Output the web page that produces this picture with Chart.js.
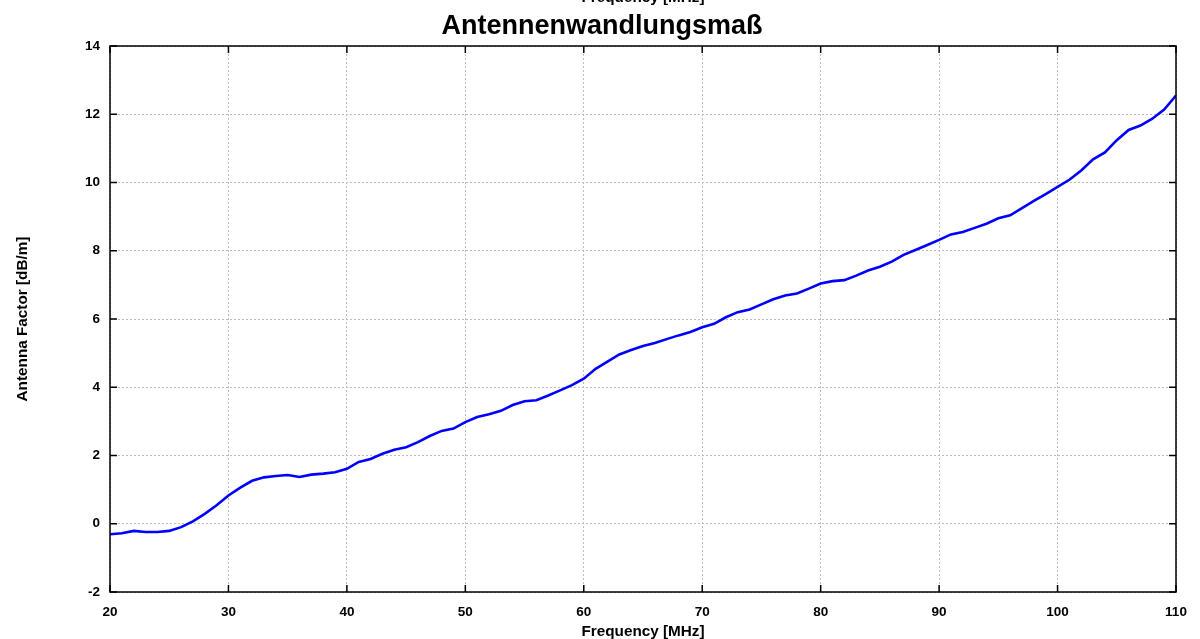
<!DOCTYPE html>
<html>
<head>
<meta charset="utf-8">
<script src="https://cdn.jsdelivr.net/npm/chart.js@4.4.1/dist/chart.umd.min.js"></script>
<style>
  html, body { margin: 0; padding: 0; background: #ffffff; }
  #wrap { width: 1200px; height: 639px; }
</style>
</head>
<body>
<div id="wrap"><canvas id="c" width="1200" height="639"></canvas></div>
<script>
const chartTitle = "Antennenwandlungsmaß";
const xAxisTitle = "Frequency [MHz]";
const yAxisTitle = "Antenna Factor [dB/m]";

const frequencies = [20, 21, 22, 23, 24, 25, 26, 27, 28, 29,
  30, 31, 32, 33, 34, 35, 36, 37, 38, 39,
  40, 41, 42, 43, 44, 45, 46, 47, 48, 49,
  50, 51, 52, 53, 54, 55, 56, 57, 58, 59,
  60, 61, 62, 63, 64, 65, 66, 67, 68, 69,
  70, 71, 72, 73, 74, 75, 76, 77, 78, 79,
  80, 81, 82, 83, 84, 85, 86, 87, 88, 89,
  90, 91, 92, 93, 94, 95, 96, 97, 98, 99,
  100, 101, 102, 103, 104, 105, 106, 107, 108, 109, 110];

const antennaFactor = [-0.31, -0.28, -0.21, -0.24, -0.24, -0.21, -0.10, 0.07, 0.29, 0.54,
  0.83, 1.06, 1.26, 1.36, 1.40, 1.43, 1.37, 1.44, 1.47, 1.51,
  1.61, 1.81, 1.90, 2.05, 2.17, 2.24, 2.39, 2.57, 2.72, 2.79,
  2.98, 3.13, 3.21, 3.31, 3.48, 3.59, 3.62, 3.76, 3.91, 4.06,
  4.25, 4.54, 4.75, 4.96, 5.09, 5.21, 5.30, 5.41, 5.52, 5.62,
  5.76, 5.86, 6.05, 6.20, 6.28, 6.43, 6.58, 6.69, 6.75, 6.89,
  7.04, 7.11, 7.14, 7.27, 7.42, 7.53, 7.68, 7.88, 8.02, 8.17,
  8.32, 8.48, 8.55, 8.67, 8.79, 8.95, 9.04, 9.25, 9.46, 9.66,
  9.87, 10.08, 10.35, 10.68, 10.88, 11.24, 11.54, 11.67, 11.87, 12.14, 12.55];

const xTicks = [20, 30, 40, 50, 60, 70, 80, 90, 100, 110];
const yTicks = [-2, 0, 2, 4, 6, 8, 10, 12, 14];

const FONT = "'Liberation Sans', Arial, sans-serif";

const points = frequencies.map((f, i) => ({ x: f, y: antennaFactor[i] }));

// frame + inward tick marks + clipped top label (gnuplot-like)
const framePlugin = {
  id: 'frame',
  afterDraw(chart) {
    const { ctx, chartArea: a, scales } = chart;
    const xs = scales.x, ys = scales.y;
    const tl = 7;
    ctx.save();
    ctx.strokeStyle = '#000000';
    ctx.lineWidth = 1.5;
    ctx.beginPath();
    xTicks.forEach(v => {
      const px = xs.getPixelForValue(v);
      ctx.moveTo(px, a.bottom); ctx.lineTo(px, a.bottom - tl);
      ctx.moveTo(px, a.top); ctx.lineTo(px, a.top + tl);
    });
    yTicks.forEach(v => {
      const py = ys.getPixelForValue(v);
      ctx.moveTo(a.left, py); ctx.lineTo(a.left + tl, py);
      ctx.moveTo(a.right, py); ctx.lineTo(a.right - tl, py);
    });
    ctx.stroke();
    ctx.strokeRect(a.left, a.top, a.right - a.left, a.bottom - a.top);
    // duplicated axis label at the very top, partly cut by the page edge
    ctx.fillStyle = '#000000';
    ctx.font = "bold 15.3px " + FONT;
    ctx.textAlign = 'center';
    ctx.textBaseline = 'alphabetic';
    ctx.fillText(xAxisTitle, (a.left + a.right) / 2, 1.5);
    ctx.restore();
  }
};

new Chart(document.getElementById('c'), {
  type: 'line',
  data: {
    datasets: [{
      label: yAxisTitle,
      data: points,
      borderColor: '#0000ff',
      borderWidth: 2.6,
      pointRadius: 0,
      tension: 0,
      fill: false
    }]
  },
  options: {
    responsive: false,
    animation: false,
    devicePixelRatio: 1,
    layout: { padding: { left: 28, right: 24, top: 0, bottom: 0 } },
    plugins: {
      legend: { display: false },
      tooltip: { enabled: false },
      title: {
        display: true,
        text: chartTitle,
        color: '#000000',
        font: { family: FONT, size: 27, weight: 'bold', lineHeight: 1.2 },
        padding: { top: 10.4, bottom: 3.2 }
      }
    },
    scales: {
      x: {
        type: 'linear',
        min: 20, max: 110,
        afterFit: s => { s.height = 47; },
        afterBuildTicks: s => { s.ticks = xTicks.map(v => ({ value: v })); },
        ticks: {
          color: '#000000',
          padding: 12,
          font: { family: FONT, size: 13.5, weight: 'bold', lineHeight: 1.2 },
          maxRotation: 0
        },
        grid: { color: '#bdbdbd', lineWidth: 1, drawTicks: false },
        border: { display: false, dash: [2, 2] },
        title: {
          display: true,
          text: xAxisTitle,
          color: '#000000',
          font: { family: FONT, size: 15.3, weight: 'bold', lineHeight: 1.0 },
          padding: { top: 0, bottom: 0 }
        }
      },
      y: {
        type: 'linear',
        min: -2, max: 14,
        afterFit: s => { s.width = 82; },
        afterBuildTicks: s => { s.ticks = yTicks.map(v => ({ value: v })); },
        ticks: {
          color: '#000000',
          padding: 10,
          font: { family: FONT, size: 13.5, weight: 'bold', lineHeight: 1.2 }
        },
        grid: { color: '#bdbdbd', lineWidth: 1, drawTicks: false },
        border: { display: false, dash: [2, 2] },
        title: {
          display: true,
          text: yAxisTitle,
          color: '#000000',
          font: { family: FONT, size: 15.3, weight: 'bold', lineHeight: 1.0 },
          padding: { top: -12.6, bottom: 0 }
        }
      }
    }
  },
  plugins: [framePlugin]
});
</script>
</body>
</html>
